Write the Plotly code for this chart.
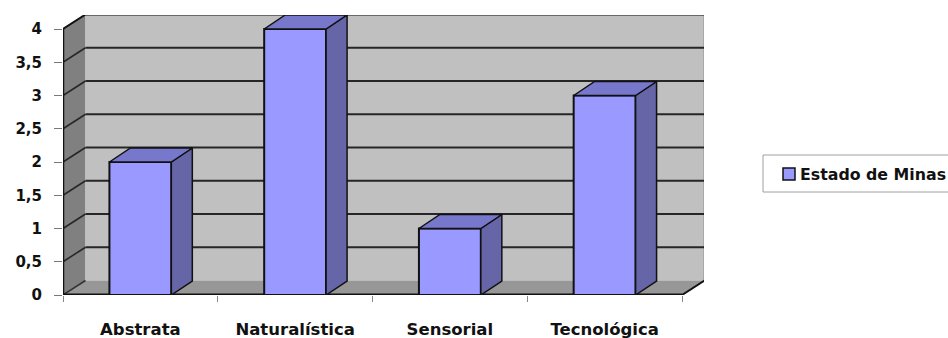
import plotly.graph_objects as go

# Chart data
categories = ["Abstrata", "Naturalística", "Sensorial", "Tecnológica"]
values = [2, 4, 1, 3]
series_name = "Estado de Minas"
y_tick_values = [0, 0.5, 1, 1.5, 2, 2.5, 3, 3.5, 4]
y_tick_labels = ["0", "0,5", "1", "1,5", "2", "2,5", "3", "3,5", "4"]

# Canvas and pseudo-3D geometry
W, H = 948, 338
L, R, T, B = 63, 244, 15, 43
plot_w = W - L - R
plot_h = H - T - B
px_per_cat = 154.75
px_per_unit = 66.5

n = len(categories)
x0 = -0.5
x1 = x0 + n
x_max = x0 + plot_w / px_per_cat
y_max = plot_h / px_per_unit
y_top = max(y_tick_values)

DX = 22.5 / px_per_cat      # wall depth offset (x)
DY = 14.5 / px_per_unit     # wall depth offset (y)
BAR_W = 0.40
BDX = 21 / px_per_cat       # bar depth offset (x)
BDY = 14 / px_per_unit      # bar depth offset (y)

FRONT = "#9999FF"
TOP = "#7777CC"
SIDE = "#6565A8"
BACK_WALL = "#C0C0C0"
SIDE_WALL = "#808080"
FLOOR = "#979797"
FONT = "DejaVu Sans"
INK = "#111111"


def path(points):
    return "M " + " L ".join(f"{x},{y}" for x, y in points) + " Z"


def px_x(px):
    """Pixel column -> paper x."""
    return (px - L) / plot_w


def px_y(py):
    """Pixel row -> paper y."""
    return (H - B - py) / plot_h


shapes = []
# side wall
shapes.append(dict(type="path", xref="x", yref="y", layer="below",
                   path=path([(x0, 0), (x0, y_top), (x0 + DX, y_top + DY), (x0 + DX, DY)]),
                   fillcolor=SIDE_WALL, line=dict(width=0)))
# back wall
shapes.append(dict(type="path", xref="x", yref="y", layer="below",
                   path=path([(x0 + DX, DY), (x0 + DX, y_top + DY), (x1 + DX, y_top + DY), (x1 + DX, DY)]),
                   fillcolor=BACK_WALL, line=dict(width=0)))
# floor
shapes.append(dict(type="path", xref="x", yref="y", layer="below",
                   path=path([(x0, 0), (x1, 0), (x1 + DX, DY), (x0 + DX, DY)]),
                   fillcolor=FLOOR, line=dict(width=0)))
# back wall right edge
shapes.append(dict(type="line", xref="x", yref="y", layer="below",
                   x0=x1 + DX, x1=x1 + DX, y0=DY, y1=y_top + DY,
                   line=dict(color="#A8A8A8", width=3)))
# gridlines on back and side walls
for v in y_tick_values[1:-1]:
    shapes.append(dict(type="line", xref="x", yref="y", layer="below",
                       x0=x0 + DX, x1=x1 + DX, y0=v + DY, y1=v + DY,
                       line=dict(color="#262626", width=2)))
    shapes.append(dict(type="line", xref="x", yref="y", layer="below",
                       x0=x0, x1=x0 + DX, y0=v, y1=v + DY,
                       line=dict(color="#262626", width=1.5)))
# top edges of walls
shapes.append(dict(type="path", xref="x", yref="y", layer="below",
                   path=f"M {x0},{y_top} L {x0 + DX},{y_top + DY} L {x1 + DX},{y_top + DY}",
                   line=dict(color=INK, width=2)))
# floor diagonals
shapes.append(dict(type="line", xref="x", yref="y", layer="below",
                   x0=x0, x1=x0 + DX, y0=0, y1=DY, line=dict(color="#333333", width=1.5)))
shapes.append(dict(type="line", xref="x", yref="y", layer="below",
                   x0=x1, x1=x1 + DX, y0=0, y1=DY, line=dict(color=INK, width=2)))
# front axis lines
shapes.append(dict(type="line", xref="x", yref="y", layer="below",
                   x0=x0, x1=x0, y0=0, y1=y_top, line=dict(color=INK, width=2.5)))
shapes.append(dict(type="line", xref="x", yref="y", layer="below",
                   x0=x0, x1=x1, y0=0, y1=0, line=dict(color=INK, width=3)))

# legend box with series swatch
shapes.append(dict(type="rect", xref="paper", yref="paper", layer="above",
                   x0=px_x(763), x1=px_x(990), y0=px_y(192), y1=px_y(155),
                   fillcolor="white", line=dict(color="#A0A0A0", width=1)))
shapes.append(dict(type="rect", xref="paper", yref="paper", layer="above",
                   x0=px_x(783), x1=px_x(795), y0=px_y(180), y1=px_y(168),
                   fillcolor=FRONT, line=dict(color=INK, width=1.5)))
annotations = [dict(xref="paper", yref="paper", x=px_x(798), y=px_y(174),
                    xanchor="left", yanchor="middle", showarrow=False,
                    text=series_name,
                    font=dict(family=FONT, size=15.8, color=INK, weight="bold"))]

fig = go.Figure()

# bar top and side faces
for i, v in enumerate(values):
    xl, xr = i - BAR_W / 2, i + BAR_W / 2
    side = [(xr, 0), (xr + BDX, BDY), (xr + BDX, v + BDY), (xr, v), (xr, 0)]
    top = [(xl, v), (xr, v), (xr + BDX, v + BDY), (xl + BDX, v + BDY), (xl, v)]
    for pts, col in ((side, SIDE), (top, TOP)):
        fig.add_trace(go.Scatter(
            x=[p[0] for p in pts], y=[p[1] for p in pts],
            mode="lines", fill="toself", fillcolor=col,
            line=dict(color=INK, width=1.5),
            showlegend=False, hoverinfo="skip"))

# bar front faces
fig.add_trace(go.Bar(
    x=list(range(n)), y=values, width=BAR_W, name=series_name,
    marker=dict(color=FRONT, line=dict(color=INK, width=2)),
    showlegend=False))

fig.update_layout(
    width=W, height=H,
    margin=dict(l=L, r=R, t=T, b=B, autoexpand=False),
    paper_bgcolor="white", plot_bgcolor="white",
    shapes=shapes, annotations=annotations,
    font=dict(family=FONT, size=15, color=INK, weight="bold"),
    showlegend=False,
    xaxis=dict(range=[x0, x_max], showgrid=False, zeroline=False, showline=False,
               tickmode="array", tickvals=list(range(n)), ticktext=categories,
               ticks="", ticklabelstandoff=22,
               minor=dict(tickmode="array", tickvals=[x0 + k for k in range(n + 1)],
                          ticks="outside", ticklen=6, tickcolor="#888888", tickwidth=1),
               tickfont=dict(family=FONT, size=16.5, color=INK, weight="bold"),
               fixedrange=True),
    yaxis=dict(range=[0, y_max], showgrid=False, zeroline=False, showline=False,
               tickmode="array", tickvals=y_tick_values, ticktext=y_tick_labels,
               ticks="outside", ticklen=8, tickcolor="#777777", tickwidth=1,
               ticklabelstandoff=9,
               tickfont=dict(family=FONT, size=15, color=INK, weight="bold"),
               fixedrange=True),
)

fig.write_html("out.html")
